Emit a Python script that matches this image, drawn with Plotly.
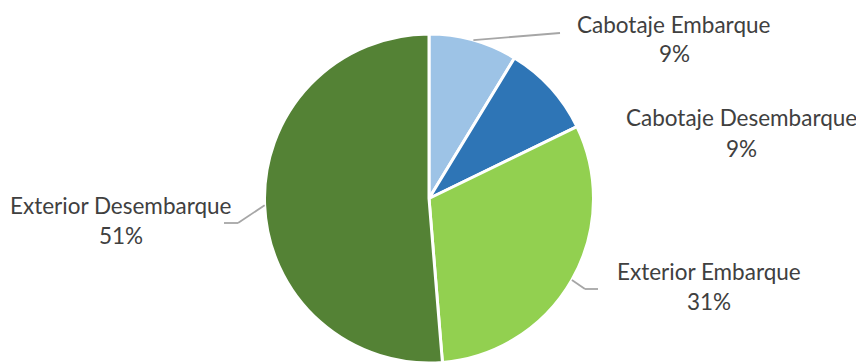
import math
import plotly.graph_objects as go

# Passenger movement shares
categories = ["Cabotaje Embarque", "Cabotaje Desembarque", "Exterior Embarque", "Exterior Desembarque"]
values = [8.7, 9.1, 30.9, 51.3]
colors = ["#9DC3E6", "#2E75B6", "#92D050", "#548235"]

W, H = 856, 363
CX, CY, R = 429, 198.5, 164.5  # pie centre and radius in pixels

# label placement (pixels): text centre x, name line y, leader path after the pie edge
label_layout = {
    "Cabotaje Embarque": dict(x=674, y=24, path=[(560, 33)]),
    "Cabotaje Desembarque": dict(x=741, y=118, path=None),
    "Exterior Embarque": dict(x=709, y=271, path=[(585, 289), (598, 289)]),
    "Exterior Desembarque": dict(x=121, y=205, path=[(238, 223), (224, 223)]),
}
LINE_GAP = 30
FONT = dict(family="Lato, 'Open Sans', sans-serif", size=22.5, color="#404040")


def px(x, y):
    return x / W, 1 - y / H


fig = go.Figure(
    go.Pie(
        labels=categories,
        values=values,
        sort=False,
        direction="clockwise",
        rotation=0,
        marker=dict(colors=colors, line=dict(color="white", width=3)),
        textinfo="none",
        hoverinfo="label+percent",
        showlegend=False,
        domain=dict(x=[(CX - R) / W, (CX + R) / W], y=[(H - CY - R) / H, (H - CY + R) / H]),
    )
)

total = sum(values)
annotations = []
shapes = []
cum = 0.0
for name, v in zip(categories, values):
    mid = (cum + v / 2) / total * 2 * math.pi
    cum += v
    spec = label_layout[name]
    pct = round(v / total * 100)
    x0, y0 = px(spec["x"], spec["y"])
    x1, y1 = px(spec["x"], spec["y"] + LINE_GAP)
    annotations.append(dict(x=x0, y=y0, xref="paper", yref="paper", text=name,
                            showarrow=False, font=FONT, xanchor="center", yanchor="middle"))
    annotations.append(dict(x=x1, y=y1, xref="paper", yref="paper", text=f"{pct}%",
                            showarrow=False, font=FONT, xanchor="center", yanchor="middle"))
    if spec["path"]:
        pts = [(CX + R * math.sin(mid), CY - R * math.cos(mid))] + spec["path"]
        for (ax, ay), (bx, by) in zip(pts[:-1], pts[1:]):
            a = px(ax, ay)
            b = px(bx, by)
            shapes.append(dict(type="line", xref="paper", yref="paper",
                               x0=a[0], y0=a[1], x1=b[0], y1=b[1],
                               line=dict(color="#A6A6A6", width=1.8)))

fig.update_layout(
    width=W,
    height=H,
    margin=dict(l=0, r=0, t=0, b=0),
    paper_bgcolor="white",
    plot_bgcolor="white",
    annotations=annotations,
    shapes=shapes,
)

fig.write_html("out.html")
